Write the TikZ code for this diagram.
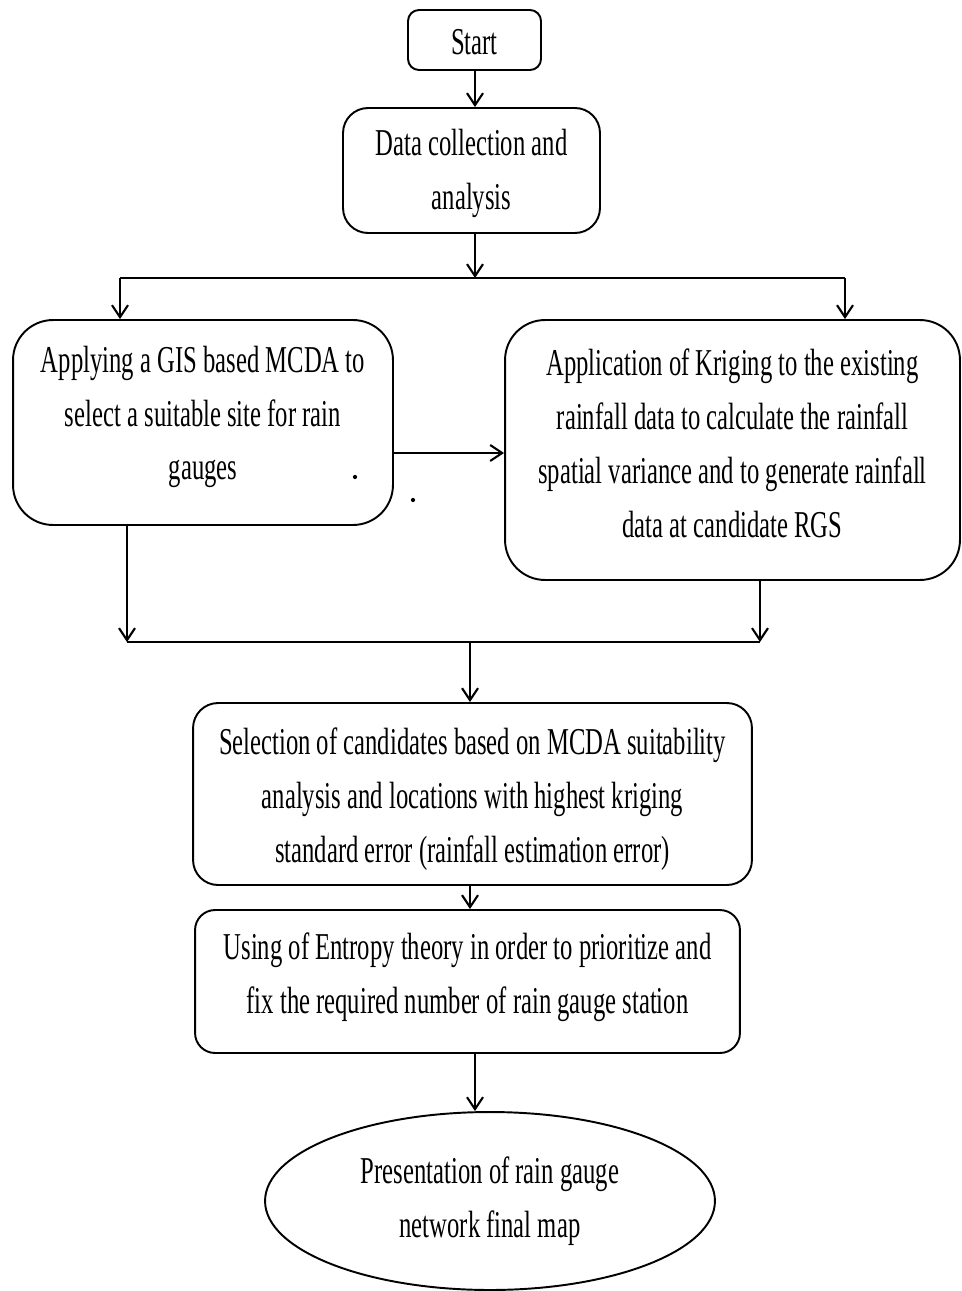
\documentclass[tikz,border=0pt]{standalone}
\usepackage{fontspec}
\setmainfont{Liberation Serif}[FakeStretch=0.65]
\usepackage{tikz}
\usetikzlibrary{arrows.meta, positioning, shapes.geometric}
\newcommand{\padbelow}[1]{\rule[-#1]{0pt}{#1}}
\newcommand{\padabove}[1]{\rule{0pt}{#1}}

\begin{document}
\begin{tikzpicture}[x=0.02cm, y=-0.02cm, line width=1.1pt,
        box/.style={rectangle, draw, rounded corners=#1, align=center, inner sep=0pt,
            font=\fontsize{21.6pt}{30.7pt}\selectfont},
        box/.default=0.5cm,
        oval/.style={ellipse, draw, align=center, inner sep=0pt,
            font=\fontsize{21.6pt}{30.7pt}\selectfont},
        flow/.style={-{Straight Barb[length=2.4mm, width=3.2mm, line width=1.2pt]}}]
        \useasboundingbox (0,0) rectangle (962,1291);

        \node (start) at (474.5,40) [box=0.22cm, minimum width=2.66cm, minimum height=1.2cm] {\padabove{17pt}Start};
        \node (data) at (471.5,170.5) [box=0.5cm, minimum width=5.14cm, minimum height=2.5cm] {\padabove{18pt}Data collection and\\analysis};
        \node (gis) at (203,422.5) [box=0.8cm, minimum width=7.6cm, minimum height=4.1cm] {Applying a GIS based MCDA to\\select a suitable site for rain\\gauges\padbelow{11pt}};
        \node (krig) at (732.5,450) [box=0.8cm, minimum width=9.1cm, minimum height=5.2cm] {Application of Kriging to the existing\\rainfall data to calculate the rainfall\\spatial variance and to generate rainfall\\data at candidate RGS\padbelow{8pt}};
        \node (sel) at (472.5,794) [box=0.5cm, minimum width=11.18cm, minimum height=3.64cm] {\padabove{21.5pt}Selection of candidates based on MCDA suitability\\analysis and locations with highest kriging\\standard error (rainfall estimation error)};
        \node (ent) at (467.5,981.5) [box=0.4cm, minimum width=10.9cm, minimum height=2.86cm] {Using of Entropy theory in order to prioritize and\\fix the required number of rain gauge station\padbelow{10pt}};
        \node (pres) at (490,1201) [oval, minimum width=9cm, minimum height=3.56cm] {Presentation of rain gauge\\network final map};

        % split and join lines
        \coordinate (split) at (475,278);
        \coordinate (splitL) at (120,278);
        \coordinate (splitR) at (845,278);
        \coordinate (side) at (0,453);
        \coordinate (joinL) at (127,642);
        \coordinate (joinR) at (760,642);
        \coordinate (join) at (470,642);

        \draw[flow] (start.south -| split) -- (data.north -| split);
        \draw[flow] (data.south -| split) -- (split);
        \draw (splitL) -- (splitR);
        \draw[flow] (splitL) -- (gis.north -| splitL);
        \draw[flow] (splitR) -- (krig.north -| splitR);
        \draw[flow] (gis.east |- side) -- (krig.west |- side);
        \draw[flow] (gis.south -| joinL) -- (joinL);
        \draw[flow] (krig.south -| joinR) -- (joinR);
        \draw (joinL) -- (joinR);
        \draw[flow] (join) -- (sel.north -| join);
        \draw[flow] (sel.south -| join) -- (ent.north -| join);
        \draw[flow] (ent.south -| split) -- (pres.north -| split);

        \fill (355,477) circle (1.2pt);
        \fill (413,500) circle (1.2pt);
\end{tikzpicture}
\end{document}
